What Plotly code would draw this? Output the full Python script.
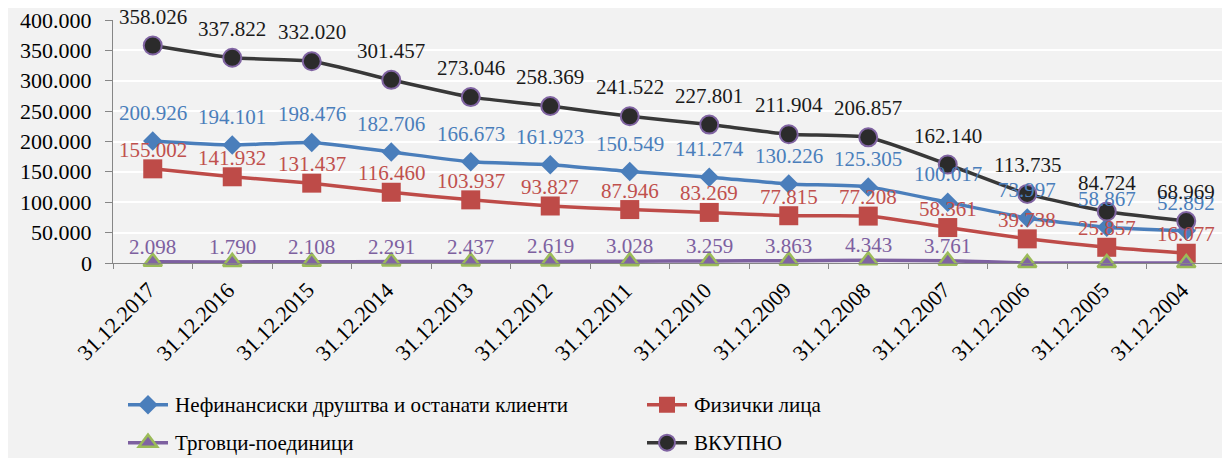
import plotly.graph_objects as go

# Dates (categories, newest first)
dates = ["31.12.2017", "31.12.2016", "31.12.2015", "31.12.2014", "31.12.2013",
         "31.12.2012", "31.12.2011", "31.12.2010", "31.12.2009", "31.12.2008",
         "31.12.2007", "31.12.2006", "31.12.2005", "31.12.2004"]

# Series values
nonfinancial = [200926, 194101, 198476, 182706, 166673, 161923, 150549,
                141274, 130226, 125305, 100017, 73997, 58867, 52892]
individuals = [155002, 141932, 131437, 116460, 103937, 93827, 87946,
               83269, 77815, 77208, 58361, 39738, 25857, 16077]
sole_traders = [2098, 1790, 2108, 2291, 2437, 2619, 3028,
                3259, 3863, 4343, 3761, 0, 0, 0]
total = [358026, 337822, 332020, 301457, 273046, 258369, 241522,
         227801, 211904, 206857, 162140, 113735, 84724, 68969]

# Y-axis tick values
y_ticks = [0, 50000, 100000, 150000, 200000, 250000, 300000, 350000, 400000]

names = ["Нефинансиски друштва и останати клиенти", "Физички лица",
         "Трговци-поединици", "ВКУПНО"]

FONT = "Times New Roman"
W, H = 1232, 458
L, R, T, B = 113, 6, 20, 195
PW, PH = W - L - R, H - T - B


def px_x(x):
    return (x - L) / PW


def px_y(y):
    return (H - B - y) / PH


def dotted(v):
    return f"{v:,}".replace(",", ".")


fig = go.Figure()

styles = [
    dict(y=nonfinancial, color="#4A7EBB",
         marker=dict(symbol="diamond", size=15, color="#4A7EBB",
                     line=dict(width=0)),
         label_color="#4A7EBB", shift=28, legend="legend"),
    dict(y=individuals, color="#BE4B48",
         marker=dict(symbol="square", size=19, color="#BE4B48",
                     line=dict(width=0)),
         label_color="#C0504D", shift=19, legend="legend2"),
    dict(y=sole_traders, color="#7D60A0",
         marker=dict(symbol="triangle-up", size=16, color="#8064A2",
                     line=dict(width=2.5, color="#9BBB59")),
         label_color="#7D60A0", shift=15, legend="legend3"),
    dict(y=total, color="#383838",
         marker=dict(symbol="circle", size=18, color="#2B2B2B",
                     line=dict(width=2, color="#8064A2")),
         label_color="#1A1A1A", shift=29, legend="legend4"),
]

for name, st in zip(names, styles):
    fig.add_trace(go.Scatter(
        x=dates, y=st["y"], name=name, mode="lines+markers",
        line=dict(color=st["color"], width=3.5, shape="spline", smoothing=0.5),
        marker=st["marker"], cliponaxis=False, legend=st["legend"],
    ))

annotations = []

# Data labels above each point
for st in styles:
    for d, v in zip(dates, st["y"]):
        if v == 0:
            continue
        annotations.append(dict(
            x=d, y=v, xref="x", yref="y", text=dotted(v),
            showarrow=False, yshift=st["shift"],
            font=dict(family=FONT, size=21, color=st["label_color"]),
        ))

# Value axis labels
for v in y_ticks:
    annotations.append(dict(
        x=0, y=v, xref="paper", yref="y", text=dotted(v),
        showarrow=False, xanchor="right", yanchor="middle", xshift=-19,
        font=dict(family=FONT, size=22, color="#000000"),
    ))

# Category axis labels, rotated
for d in dates:
    annotations.append(dict(
        x=d, y=0, xref="x", yref="y", text=d, textangle=-45,
        showarrow=False, xanchor="right", yanchor="top",
        xshift=10, yshift=-12,
        font=dict(family=FONT, size=22, color="#000000"),
    ))

# Legend symbols via plotly legends (text drawn separately below)
leg_common = dict(orientation="v", bgcolor="rgba(0,0,0,0)",
                  font=dict(family=FONT, size=21, color="rgba(0,0,0,0)"),
                  xref="container", yref="container",
                  xanchor="left", yanchor="middle", itemwidth=40,
                  tracegroupgap=0, borderwidth=0)
col1, col2 = 123, 642
row1, row2 = 405, 443
legend_slots = [(col1, row1), (col2, row1), (col1, row2), (col2, row2)]

for name, (cx, cy) in zip(names, legend_slots):
    annotations.append(dict(
        x=px_x(cx + 50), y=px_y(cy), xref="paper", yref="paper", text=name,
        showarrow=False, xanchor="left", yanchor="middle",
        font=dict(family=FONT, size=21, color="#000000"),
    ))

# White frame around the chart area
shapes = [
    dict(type="rect", xref="paper", yref="paper", x0=px_x(0), x1=px_x(W),
         y0=px_y(8), y1=px_y(0), fillcolor="white", line=dict(width=0)),
    dict(type="rect", xref="paper", yref="paper", x0=px_x(0), x1=px_x(8),
         y0=px_y(H), y1=px_y(0), fillcolor="white", line=dict(width=0)),
    dict(type="rect", xref="paper", yref="paper", x0=px_x(1222), x1=px_x(W),
         y0=px_y(H), y1=px_y(0), fillcolor="white", line=dict(width=0)),
]

legend_layouts = {}
for key, (cx, cy) in zip(["legend", "legend2", "legend3", "legend4"],
                         legend_slots):
    legend_layouts[key] = dict(**leg_common, x=cx / W, y=1 - cy / H)

fig.update_layout(
    width=W, height=H,
    margin=dict(l=L, r=R, t=T, b=B, pad=0, autoexpand=False),
    paper_bgcolor="#F2F2F2", plot_bgcolor="#F2F2F2",
    showlegend=True,
    font=dict(family=FONT, size=21, color="#000000"),
    annotations=annotations,
    shapes=shapes,
    **legend_layouts,
    xaxis=dict(
        type="category", showgrid=False, automargin=False,
        range=[-0.5, len(dates) - 0.5], showticklabels=False,
        showline=True, linecolor="#868686", linewidth=1,
        ticks="outside", tickson="boundaries", ticklen=5, tickcolor="#868686",
        zeroline=False,
    ),
    yaxis=dict(
        range=[0, 400000], tickvals=y_ticks, showticklabels=False,
        showgrid=True, gridcolor="#FFFFFF", gridwidth=2,
        showline=True, linecolor="#868686", linewidth=1, automargin=False,
        ticks="outside", ticklen=7, tickcolor="#868686",
        zeroline=False,
    ),
)

fig.write_html("out.html")
